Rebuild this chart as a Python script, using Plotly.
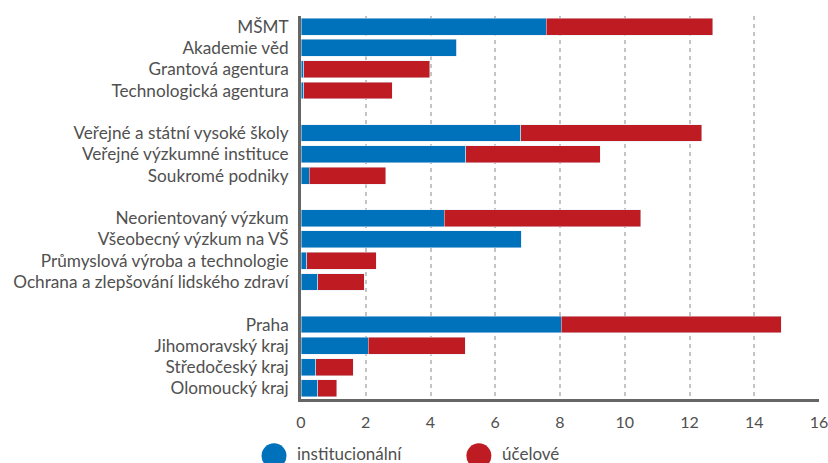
import plotly.graph_objects as go

groups = [
    ["MŠMT", "Akademie věd", "Grantová agentura", "Technologická agentura"],
    ["Veřejné a státní vysoké školy", "Veřejné výzkumné instituce", "Soukromé podniky"],
    ["Neorientovaný výzkum", "Všeobecný výzkum na VŠ", "Průmyslová výroba a technologie",
     "Ochrana a zlepšování lidského zdraví"],
    ["Praha", "Jihomoravský kraj", "Středočeský kraj", "Olomoucký kraj"],
]
institucionalni = [
    [7.57, 4.81, 0.08, 0.08],
    [6.78, 5.09, 0.26],
    [4.43, 6.81, 0.17, 0.51],
    [8.04, 2.07, 0.46, 0.51],
]
ucelove = [
    [5.15, 0.0, 3.89, 2.74],
    [5.60, 4.16, 2.35],
    [6.07, 0.0, 2.15, 1.44],
    [6.80, 3.00, 1.15, 0.60],
]
x_ticks = [0, 2, 4, 6, 8, 10, 12, 14, 16]

BLUE = "#0072bc"
RED = "#be1c22"
GREY = "#505050"
FONT = "Lato"

cats, inst, uc = [], [], []
for gi, (g, a, b) in enumerate(zip(groups, institucionalni, ucelove)):
    if gi > 0:
        cats.append(" " * gi)
        inst.append(None)
        uc.append(None)
    cats += g
    inst += a
    uc += b

fig = go.Figure()
fig.add_trace(go.Bar(y=cats, x=inst, orientation="h", marker_color=BLUE,
                     name="institucionální", showlegend=False))
fig.add_trace(go.Bar(y=cats, x=uc, orientation="h", marker_color=RED,
                     name="účelové", showlegend=False))

fig.update_layout(
    barmode="stack",
    bargap=0.207,
    width=828, height=463,
    margin=dict(l=301, r=8.6, t=15.6, b=64.1, autoexpand=False),
    plot_bgcolor="white", paper_bgcolor="white",
    font=dict(family=FONT, size=17, color=GREY),
)
fig.update_yaxes(
    categoryorder="array", categoryarray=cats, autorange="reversed",
    showline=True, linecolor="#666666", linewidth=2.7,
    showgrid=False, ticks="", ticklabelstandoff=6, automargin=False,
    tickfont=dict(size=17.2, color=GREY),
)
fig.update_xaxes(
    range=[0, 16.0001], tickvals=x_ticks, ticklabeloverflow="allow",
    showline=True, linecolor="#666666", linewidth=2.7,
    showgrid=True, gridcolor="#c4c4c4", griddash="4px,4px", gridwidth=1.5,
    zeroline=False, ticks="", ticklabelstandoff=7, automargin=False,
    tickfont=dict(size=16, color=GREY),
)

# legend drawn as circles + labels
legend_items = [("institucionální", BLUE, -0.0521), ("účelové", RED, 0.3434)]
for label, col, xp in legend_items:
    fig.add_shape(type="circle", xref="paper", yref="paper",
                  xsizemode="pixel", ysizemode="pixel",
                  xanchor=xp, yanchor=-0.1484,
                  x0=-12.5, x1=12.5, y0=-12.5, y1=12.5,
                  fillcolor=col, line_width=0)
    fig.add_annotation(text=label, xref="paper", yref="paper",
                       x=xp, xshift=21, y=-0.1484, yshift=2,
                       xanchor="left", yanchor="middle",
                       showarrow=False, font=dict(size=17, color=GREY))

fig.write_html("out.html", config={"displayModeBar": False},
               post_script="document.body.style.margin='0';")
